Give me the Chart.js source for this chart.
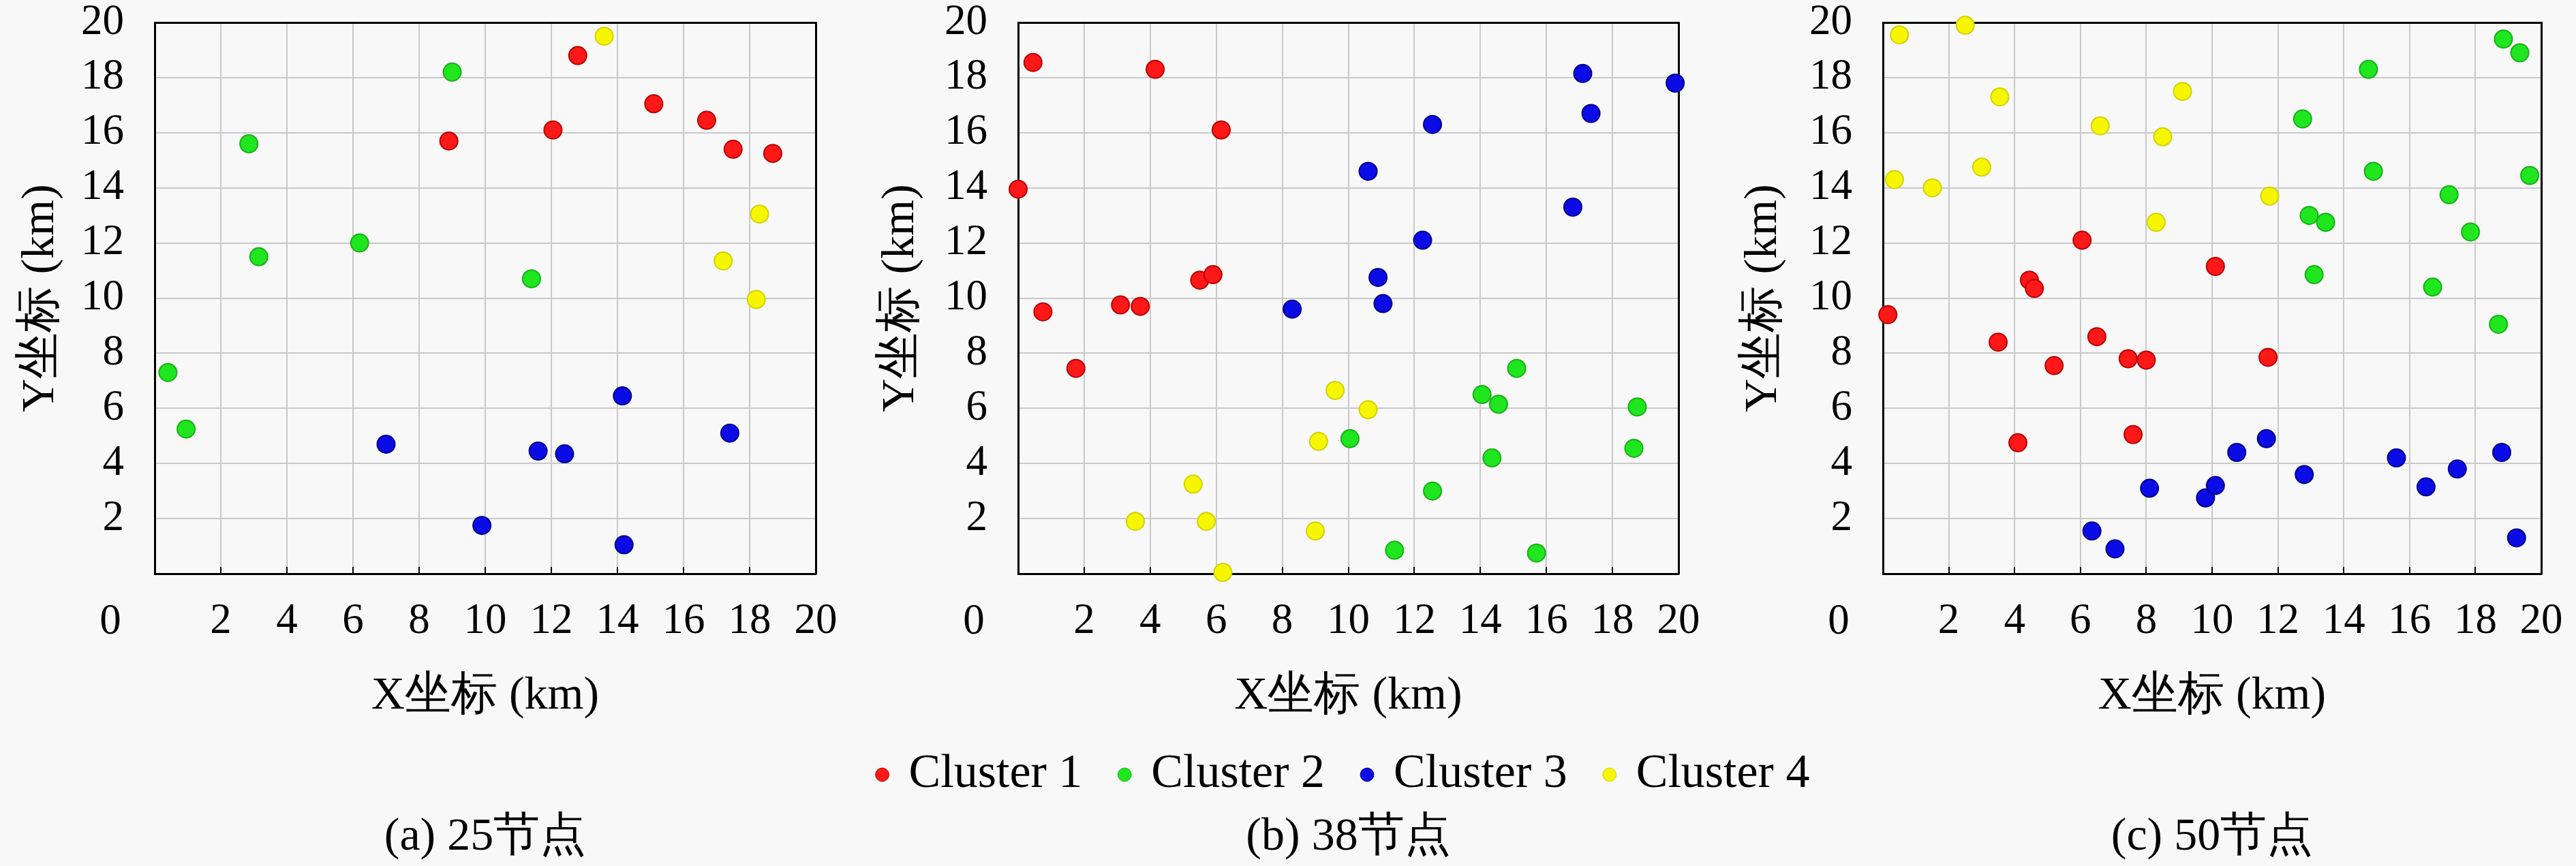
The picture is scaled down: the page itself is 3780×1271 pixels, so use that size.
<!DOCTYPE html>
<html><head><meta charset="utf-8">
<script src="https://cdn.jsdelivr.net/npm/chart.js@4.4.1/dist/chart.umd.min.js"></script>
<style>
html,body{margin:0;padding:0;background:#f8f8f8;}
#wrap{position:relative;width:3780px;height:1271px;overflow:hidden;background:#f8f8f8;}
canvas{position:absolute;}
</style></head><body><div id="wrap">
<canvas id="ca" width="1260" height="1271" style="left:0;top:0"></canvas>
<canvas id="cb" width="1260" height="1271" style="left:1260px;top:0"></canvas>
<canvas id="cc" width="1260" height="1271" style="left:2520px;top:0"></canvas>
<canvas id="cl" width="3780" height="400" style="left:0;top:1000px"></canvas>
</div>
<script>
// ---------- data ----------
const clusterNames = ['Cluster 1', 'Cluster 2', 'Cluster 3', 'Cluster 4'];
const captions = ['(a) 25节点', '(b) 38节点', '(c) 50节点'];
const xTitle = 'X坐标 (km)';
const yTitle = 'Y坐标 (km)';
const tickValues = [0, 2, 4, 6, 8, 10, 12, 14, 16, 18, 20];

// (a) 25 nodes
const a1 = [[8.9,15.7],[12.8,18.8],[12.05,16.1],[15.1,17.05],[16.7,16.45],[17.5,15.4],[18.7,15.25]];
const a2 = [[9.0,18.2],[2.85,15.6],[3.15,11.5],[6.2,12.0],[11.4,10.7],[0.4,7.3],[0.95,5.25]];
const a3 = [[7.0,4.7],[9.9,1.75],[11.6,4.45],[12.4,4.35],[14.15,6.45],[14.2,1.05],[17.4,5.1]];
const a4 = [[13.6,19.5],[18.3,13.05],[17.2,11.35],[18.2,9.95]];

// (b) 38 nodes
const b1 = [[0.45,18.55],[4.15,18.3],[6.15,16.1],[0.0,13.95],[0.75,9.5],[1.75,7.45],[3.1,9.75],[3.7,9.7],[5.5,10.65],[5.9,10.85]];
const b2 = [[10.05,4.9],[11.4,0.85],[12.55,3.0],[14.05,6.5],[14.35,4.2],[14.55,6.15],[15.1,7.45],[15.7,0.75],[18.65,4.55],[18.75,6.05]];
const b3 = [[8.3,9.6],[10.6,14.6],[10.9,10.75],[11.05,9.8],[12.25,12.1],[12.55,16.3],[16.8,13.3],[17.1,18.15],[17.35,16.7],[19.9,17.8]];
const b4 = [[9.6,6.65],[10.6,5.95],[9.1,4.8],[5.3,3.25],[3.55,1.9],[5.7,1.9],[9.0,1.55],[6.2,0.05]];

// (c) 50 nodes
const c1 = [[0.15,9.4],[3.5,8.4],[4.1,4.75],[4.45,10.65],[4.6,10.35],[5.2,7.55],[6.05,12.1],[6.5,8.6],[7.45,7.8],[8.0,7.75],[7.6,5.05],[10.1,11.15],[11.7,7.85]];
const c2 = [[12.75,16.5],[14.75,18.3],[14.9,14.6],[12.95,13.0],[13.45,12.75],[13.1,10.85],[17.2,13.75],[17.85,12.4],[16.7,10.4],[18.7,9.05],[18.85,19.4],[19.35,18.9],[19.65,14.45]];
const c3 = [[6.35,1.55],[7.05,0.9],[8.1,3.1],[9.8,2.75],[10.1,3.2],[10.75,4.4],[11.65,4.9],[12.8,3.6],[15.6,4.2],[16.5,3.15],[17.45,3.8],[18.8,4.4],[19.25,1.3]];
const c4 = [[0.5,19.55],[2.5,19.9],[3.55,17.3],[0.35,14.3],[1.5,14.0],[3.0,14.75],[6.6,16.25],[8.5,15.85],[9.1,17.5],[8.3,12.75],[11.75,13.7]];

// ---------- style ----------
const FONT = "'Liberation Serif'";
Chart.defaults.font.family = FONT;
Chart.defaults.color = '#000';
const fillColors = ['#ff1818', '#1fe61f', '#0b0be6', '#f6f600'];
const edgeColors = ['#b80000', '#17b017', '#00008c', '#d2d200'];
const GRID = '#c9c9c9';

const PLOT_TOP = 33, PLOT_BOTTOM = 842, H = 1271;
const TICK_FS = 63, TITLE_FS = 68, CAP_FS = 68, LEG_FS = 70;
const XH = 1022 + TITLE_FS * 0.6 - PLOT_BOTTOM;          // x scale block height
const CAP_PT = 1229 - (PLOT_BOTTOM + XH) - CAP_FS * 0.6;  // caption top padding
const PB = H - PLOT_BOTTOM - XH - (CAP_FS * 1.2 + CAP_PT);

const zeroLabel = {
  id: 'zeroLabel',
  afterDraw(chart) {
    const {ctx, chartArea} = chart;
    ctx.save();
    ctx.font = 'normal ' + TICK_FS + 'px ' + FONT;
    ctx.fillStyle = '#000';
    ctx.textAlign = 'center';
    ctx.textBaseline = 'middle';
    ctx.fillText(String(tickValues[0]), chartArea.left - 65, chartArea.bottom + 71);
    ctx.restore();
  }
};

function panel(id, series, caption, g) {
  const padL = g.yTitleX - TITLE_FS * 0.6;
  const yW = g.plotLeft - padL;
  const padR = 1260 - g.plotRight;
  return new Chart(document.getElementById(id), {
    type: 'scatter',
    data: {
      datasets: series.map((pts, i) => ({
        label: clusterNames[i],
        data: pts.map(p => ({x: p[0], y: p[1]})),
        backgroundColor: fillColors[i],
        borderColor: edgeColors[i],
        borderWidth: 2,
        pointRadius: 13,
        pointHoverRadius: 13,
        clip: false
      }))
    },
    options: {
      responsive: false, devicePixelRatio: 1, animation: false, events: [],
      layout: { autoPadding: false, padding: { left: padL, right: padR, top: PLOT_TOP, bottom: PB } },
      plugins: {
        legend: { display: false },
        tooltip: { enabled: false },
        title: {
          display: true, text: caption, position: 'bottom', fullSize: false, color: '#000',
          font: { family: FONT, size: CAP_FS, weight: 'normal', lineHeight: 1.2 },
          padding: { top: CAP_PT, bottom: 0 }
        }
      },
      scales: {
        x: {
          type: 'linear', position: 'bottom', min: 0, max: 20,
          afterBuildTicks: s => { s.ticks = tickValues.map(v => ({value: v})); },
          ticks: {
            padding: 43, color: '#000', maxRotation: 0, autoSkip: false,
            font: { family: FONT, size: TICK_FS, weight: 'normal', lineHeight: 1.2 },
            callback: v => (v === tickValues[0] ? '' : String(v))
          },
          grid: { color: GRID, lineWidth: 2, drawTicks: true, tickLength: -10, tickColor: '#000', tickWidth: 2 },
          border: { display: true, color: '#000', width: 3 },
          title: { display: true, text: xTitle, color: '#000', font: { family: FONT, size: TITLE_FS, weight: 'normal', lineHeight: 1.2 }, padding: { top: 0, bottom: 0 } },
          afterFit: s => { s.height = XH; s.paddingLeft = 0; s.paddingRight = 0; }
        },
        y: {
          type: 'linear', position: 'left', min: 0, max: 20,
          afterBuildTicks: s => { s.ticks = tickValues.map(v => ({value: v})); },
          ticks: {
            padding: 45, color: '#000', autoSkip: false,
            font: { family: FONT, size: TICK_FS, weight: 'normal', lineHeight: 1.2 },
            callback: v => (v === tickValues[0] ? '' : String(v))
          },
          grid: { color: GRID, lineWidth: 2, drawTicks: false },
          border: { display: true, color: '#000', width: 3 },
          title: { display: true, text: yTitle, color: '#000', font: { family: FONT, size: TITLE_FS, weight: 'normal', lineHeight: 1.2 }, padding: { top: 0, bottom: 0 } },
          afterFit: s => { s.width = yW; s.paddingTop = 0; s.paddingBottom = 0; }
        },
        x2: {
          type: 'linear', position: 'top', min: 0, max: 20,
          ticks: { display: false }, grid: { display: false, drawTicks: false },
          border: { display: true, color: '#000', width: 3 },
          afterFit: s => { s.height = 0; s.paddingLeft = 0; s.paddingRight = 0; }
        },
        y2: {
          type: 'linear', position: 'right', min: 0, max: 20,
          ticks: { display: false }, grid: { display: false, drawTicks: false },
          border: { display: true, color: '#000', width: 3 },
          afterFit: s => { s.width = 0; s.paddingTop = 0; s.paddingBottom = 0; }
        }
      }
    },
    plugins: [zeroLabel]
  });
}

panel('ca', [a1, a2, a3, a4], captions[0], { plotLeft: 227, plotRight: 1197, yTitleX: 60 });
panel('cb', [b1, b2, b3, b4], captions[1], { plotLeft: 234, plotRight: 1203, yTitleX: 62 });
panel('cc', [c1, c2, c3, c4], captions[2], { plotLeft: 243, plotRight: 1209, yTitleX: 68 });

// shared legend
new Chart(document.getElementById('cl'), {
  type: 'scatter',
  data: {
    datasets: clusterNames.map((n, i) => ({
      label: n, data: [], backgroundColor: fillColors[i], borderColor: edgeColors[i], borderWidth: 1, pointRadius: 12
    }))
  },
  options: {
    responsive: false, devicePixelRatio: 1, animation: false, events: [],
    layout: { padding: { left: 166, right: 0, top: 44, bottom: 0 } },
    scales: { x: { display: false }, y: { display: false } },
    plugins: {
      tooltip: { enabled: false },
      legend: {
        display: true, position: 'top',
        labels: { usePointStyle: true, pointStyle: 'circle', boxWidth: 8, boxHeight: 14, padding: 58, color: '#000',
          font: { family: FONT, size: LEG_FS, weight: 'normal' } }
      }
    }
  }
});
</script>
</body></html>
